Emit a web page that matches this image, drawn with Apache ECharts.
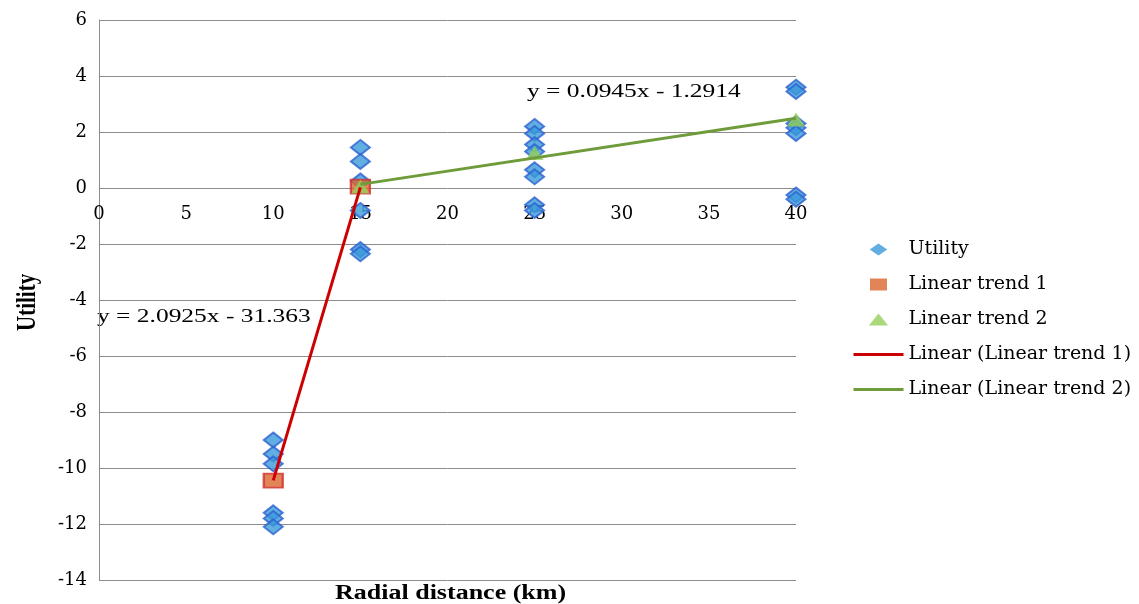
<!DOCTYPE html>
<html>
<head>
<meta charset="utf-8">
<script src="https://cdn.jsdelivr.net/npm/echarts@6/dist/echarts.min.js"></script>
<style>
  html, body { margin: 0; padding: 0; background: #fff; }
  #chart { width: 1139px; height: 604px; }
</style>
</head>
<body>
<div id="chart"></div>
<script>
// observed utilities, [radial distance, utility]
var utilityPoints = [
    [10, -9.0], [10, -9.5], [10, -9.85], [10, -11.6], [10, -11.8], [10, -12.1],
    [15, 1.45], [15, 0.95], [15, 0.25], [15, -0.8], [15, -2.2], [15, -2.35],
    [25, 2.2], [25, 1.95], [25, 1.55], [25, 1.3], [25, 0.65], [25, 0.4], [25, -0.6], [25, -0.8],
    [40, 3.6], [40, 3.45], [40, 2.3], [40, 2.15], [40, 1.95], [40, -0.25], [40, -0.4]
];
// mean points used for the two trends
var trend1Points = [[10, -10.45], [15, 0.05]];
var trend2Points = [[15, 0.05], [25, 1.25], [40, 2.45]];
// fitted trend line end points
var trend1Line = [[10, -10.44], [15, 0.02]];
var trend2Line = [[15, 0.13], [40, 2.49]];

var serif = '"Liberation Serif", "Times New Roman", serif';
var wideSerif = '"DejaVu Serif", serif';

var chart = echarts.init(document.getElementById('chart'));

var option = {
    animation: false,
    grid: {
        left: 99,
        right: 343,
        top: 20,
        bottom: 24,
        outerBoundsMode: 'none'
    },
    xAxis: {
        type: 'value',
        min: 0,
        max: 40,
        interval: 5,
        axisLine: { show: false, onZero: false },
        axisTick: { show: false },
        axisLabel: {
            color: '#000',
            fontFamily: wideSerif,
            fontSize: 18,
            // labels sit just under the zero line, like the original
            margin: -375
        },
        splitLine: { show: false }
    },
    yAxis: {
        type: 'value',
        min: -14,
        max: 6,
        interval: 2,
        axisLine: {
            show: true,
            onZero: false,
            lineStyle: { color: '#8c8c8c', width: 1 }
        },
        axisTick: { show: false },
        axisLabel: {
            color: '#000',
            fontFamily: wideSerif,
            fontSize: 18,
            margin: 12
        },
        splitLine: {
            show: true,
            lineStyle: { color: '#8c8c8c', width: 1 }
        }
    },
    legend: {
        orient: 'vertical',
        left: 847,
        top: 235,
        itemWidth: 50,
        itemHeight: 12,
        itemGap: 16,
        textStyle: {
            color: '#000',
            fontFamily: wideSerif,
            fontSize: 19
        },
        data: [
            { name: 'Utility', icon: 'path://M8,0L16,5.5L8,11L0,5.5Z', itemStyle: { borderWidth: 0 } },
            { name: 'Linear trend 1', icon: 'path://M0,0H17V12H0Z', itemStyle: { borderWidth: 0 } },
            { name: 'Linear trend 2', icon: 'path://M8,0L16,10H0Z' },
            {
                name: 'Linear (Linear trend 1)',
                itemStyle: { color: 'rgba(0,0,0,0)' },
                lineStyle: { width: 3 }
            },
            {
                name: 'Linear (Linear trend 2)',
                itemStyle: { color: 'rgba(0,0,0,0)' },
                lineStyle: { width: 3 }
            }
        ]
    },
    series: [
        {
            name: 'Utility',
            type: 'scatter',
            symbol: 'diamond',
            symbolSize: [19, 15],
            itemStyle: {
                color: '#3a9ad9',
                borderColor: '#2e62d2',
                borderWidth: 2
            },
            data: utilityPoints,
            z: 2
        },
        {
            name: 'Linear trend 1',
            type: 'scatter',
            symbol: 'rect',
            symbolSize: [19, 14],
            itemStyle: {
                color: '#d9662e',
                borderColor: '#d12f2f',
                borderWidth: 2
            },
            data: trend1Points,
            z: 3
        },
        {
            name: 'Linear trend 2',
            type: 'scatter',
            symbol: 'triangle',
            symbolSize: [18, 14],
            itemStyle: {
                color: '#94cf5a'
            },
            data: trend2Points,
            z: 4
        },
        {
            name: 'Linear (Linear trend 1)',
            type: 'line',
            symbol: 'none',
            lineStyle: { color: '#cc0000', width: 3 },
            itemStyle: { color: '#cc0000' },
            data: trend1Line,
            z: 6
        },
        {
            name: 'Linear (Linear trend 2)',
            type: 'line',
            symbol: 'none',
            lineStyle: { color: '#6f9c3a', width: 3 },
            itemStyle: { color: '#6f9c3a' },
            data: trend2Line,
            z: 5
        }
    ],
    graphic: [
        {
            type: 'text',
            x: 527,
            y: 83,
            scaleX: 1.34,
            style: {
                text: 'y = 0.0945x - 1.2914',
                fontFamily: serif,
                fontSize: 19,
                fill: '#000'
            }
        },
        {
            type: 'text',
            x: 97,
            y: 308,
            scaleX: 1.34,
            style: {
                text: 'y = 2.0925x - 31.363',
                fontFamily: serif,
                fontSize: 19,
                fill: '#000'
            }
        },
        {
            type: 'text',
            x: 335,
            y: 584,
            scaleX: 1.3,
            style: {
                text: 'Radial distance (km)',
                fontFamily: serif,
                fontSize: 20,
                fontWeight: 'bold',
                fill: '#000'
            }
        },
        {
            type: 'text',
            x: 14,
            y: 331,
            rotation: Math.PI / 2,
            scaleY: 1.3,
            style: {
                text: 'Utility',
                fontFamily: serif,
                fontSize: 21,
                fontWeight: 'bold',
                fill: '#000'
            }
        }
    ]
};

chart.setOption(option);

window.addEventListener('resize', function () {
    chart.resize();
});
</script>
</body>
</html>
